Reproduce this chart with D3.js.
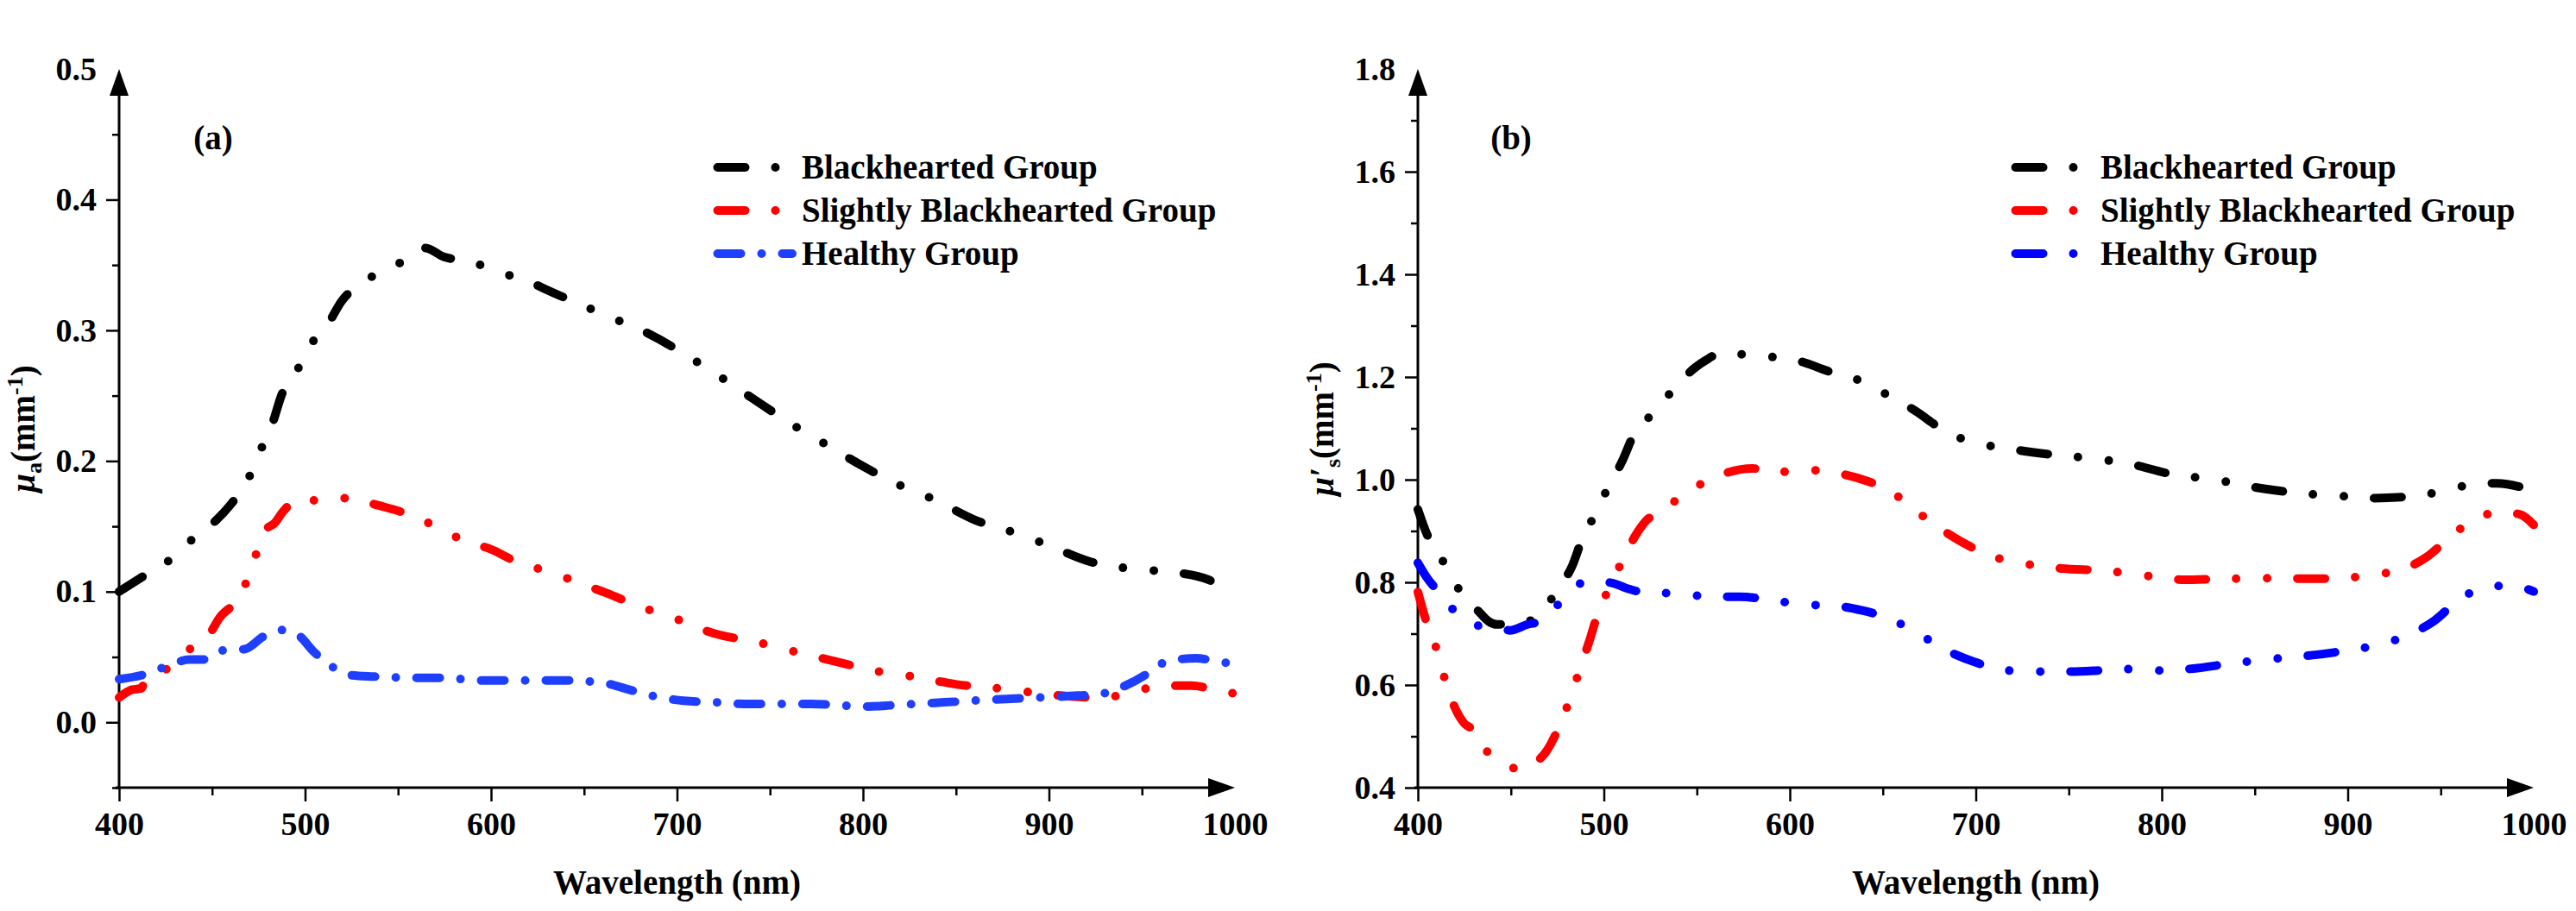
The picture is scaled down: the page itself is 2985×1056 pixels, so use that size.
<!DOCTYPE html>
<html>
<head>
<meta charset="utf-8">
<script src="https://cdn.jsdelivr.net/npm/d3@7"></script>
<style>
  body { margin: 0; background: #fff; }
  svg text { font-family: "Liberation Serif", "Times New Roman", serif; font-weight: bold; }
</style>
</head>
<body>
<svg width="2985" height="1056"></svg>
<script>
// wavelength (nm) vs value
var muaBlack = [[400,0.100],[411,0.110],[427,0.124],[435,0.135],[447,0.148],[459,0.165],[469,0.185],[476,0.208],[483,0.231],[487.5,0.251],[494.5,0.266],[502,0.287],[512,0.304],[519.5,0.322],[532.5,0.338],[545.5,0.348],[558.5,0.357],[564.5,0.363],[575,0.356],[588,0.353],[603.5,0.345],[622.5,0.336],[630,0.331],[646,0.321],[662.5,0.311],[684,0.298],[706,0.280],[720.5,0.267],[740.5,0.248],[763,0.227],[778.5,0.214],[800,0.196],[822,0.180],[837.5,0.171],[860,0.155],[884,0.144],[900.5,0.135],[922,0.123],[948,0.117],[966,0.115],[986,0.109],[996,0.101],[1000,0.098]];
var muaRed = [[400,0.019],[407,0.025],[412,0.026],[414,0.032],[427,0.042],[438,0.056],[447,0.064],[454,0.080],[466,0.099],[472,0.122],[475,0.134],[478,0.146],[484,0.153],[488,0.161],[497,0.171],[511,0.169],[525,0.172],[537,0.167],[556,0.159],[573,0.148],[587,0.138],[599,0.133],[615,0.122],[632,0.115],[648.5,0.106],[662,0.099],[679,0.089],[696,0.081],[720,0.068],[744,0.061],[760.5,0.055],[784,0.047],[808,0.039],[827,0.035],[850.5,0.029],[874.5,0.0257],[893.5,0.0224],[910,0.020],[924,0.019],[941,0.021],[960,0.028],[976.5,0.028],[992,0.024],[1000,0.022]];
var muaBlue = [[400,0.033],[412,0.036],[424,0.042],[438,0.048],[445,0.048],[455.5,0.055],[467.5,0.056],[478,0.066],[487.5,0.0706],[497,0.066],[504,0.055],[513.5,0.0435],[525,0.036],[537,0.035],[561,0.034],[573,0.034],[596,0.032],[608,0.032],[632,0.032],[641,0.032],[661,0.030],[672.5,0.0257],[684.5,0.021],[703.5,0.0165],[721,0.0153],[739,0.014],[772,0.014],[803,0.012],[815,0.013],[843.5,0.0153],[874.5,0.0177],[910,0.020],[929,0.022],[941,0.028],[951.5,0.036],[960,0.0445],[969,0.048],[979,0.049],[994.5,0.0457],[1000,0.045]];

var muspBlack = [[400,0.942],[404.5,0.897],[414,0.838],[422.5,0.784],[433,0.742],[438,0.724],[442.5,0.718],[450,0.718],[465,0.733],[474.5,0.784],[483,0.832],[489,0.891],[496,0.936],[502,0.983],[510,1.037],[516,1.087],[528,1.134],[539.5,1.185],[549,1.218],[555,1.233],[560,1.242],[563,1.239],[577.5,1.245],[590.5,1.239],[606,1.230],[620,1.212],[639,1.191],[653,1.164],[667.5,1.134],[681.5,1.099],[696,1.075],[714.5,1.062],[738,1.050],[763,1.041],[781,1.032],[805,1.011],[830,0.999],[847,0.987],[870.5,0.975],[896,0.968],[914,0.964],[938,0.969],[947.5,0.975],[961.5,0.987],[980,0.993],[1000,0.978]];
var muspRed = [[400,0.781],[404.5,0.724],[410.5,0.665],[415,0.605],[420,0.555],[425,0.525],[429.5,0.513],[435.5,0.477],[442.5,0.457],[454.5,0.436],[468.5,0.468],[474.5,0.507],[481.5,0.570],[487.5,0.635],[492.5,0.689],[497,0.742],[504,0.796],[510,0.843],[518,0.897],[523,0.921],[530,0.936],[543,0.971],[561,1.007],[580,1.022],[589,1.013],[608,1.019],[625,1.013],[641,0.998],[653,0.980],[667.5,0.940],[682,0.902],[698,0.868],[712,0.847],[728,0.835],[746,0.827],[768,0.823],[796,0.811],[812,0.805],[836,0.807],[861,0.808],[880,0.807],[901,0.809],[910,0.814],[927.5,0.823],[941.5,0.847],[954.5,0.886],[968.5,0.924],[982.5,0.936],[992,0.933],[1000,0.912]];
var muspBlue = [[400,0.838],[404.5,0.811],[412,0.778],[421,0.739],[435.5,0.7125],[449.5,0.7065],[459,0.718],[466,0.724],[475.5,0.757],[485,0.793],[492.5,0.802],[504,0.799],[513.5,0.787],[520.5,0.781],[539.5,0.778],[558.5,0.772],[573,0.772],[589,0.766],[606,0.757],[625,0.754],[639,0.745],[653,0.730],[669,0.700],[684,0.668],[700,0.644],[714.5,0.629],[733,0.626],[750.5,0.626],[770,0.629],[784,0.631],[798,0.628],[817,0.632],[835.5,0.641],[849.5,0.647],[866,0.653],[883.5,0.659],[901,0.668],[915,0.677],[931,0.695],[946.5,0.725],[959,0.764],[968.5,0.784],[976.5,0.793],[993,0.790],[1000,0.782]];

var groups = ["Blackhearted Group", "Slightly Blackhearted Group", "Healthy Group"];
var xTicks = [400, 500, 600, 700, 800, 900, 1000];
var xMinor = [450, 550, 650, 750, 850, 950];
var yTicksA = [0.0, 0.1, 0.2, 0.3, 0.4, 0.5];
var yMinorA = [-0.05, 0.05, 0.15, 0.25, 0.35, 0.45];
var yTicksB = [0.4, 0.6, 0.8, 1.0, 1.2, 1.4, 1.6, 1.8];
var yMinorB = [0.5, 0.7, 0.9, 1.1, 1.3, 1.5, 1.7];

var dashDotDot = "32 35 0 36 0 35";
var dashDot = "27 24 0 24";

var svg = d3.select('svg');

function panel(opt) {
    var x = d3.scaleLinear().domain([400, 1000]).range(opt.xr);
    var y = d3.scaleLinear().domain(opt.yd).range([913, 80]);
    var g = svg.append('g');

    // minor ticks
    g.append('g')
        .attr('transform', 'translate(0,' + y.range()[0] + ')')
        .call(d3.axisBottom(x).tickValues(xMinor).tickSize(9).tickFormat(''));
    g.append('g')
        .attr('transform', 'translate(' + x.range()[0] + ',0)')
        .call(d3.axisLeft(y).tickValues(opt.yMinor).tickSize(8).tickFormat(''));

    var xa = g.append('g')
        .attr('transform', 'translate(0,' + y.range()[0] + ')')
        .call(d3.axisBottom(x).tickValues(xTicks).tickSize(16).tickPadding(12).tickFormat(d3.format('d')));
    xa.selectAll('.tick').filter(function(d){ return d === 1000; }).select('line').remove();

    var ya = g.append('g')
        .attr('transform', 'translate(' + x.range()[0] + ',0)')
        .call(d3.axisLeft(y).tickValues(opt.yTicks).tickSize(15).tickPadding(11).tickFormat(d3.format('.1f')));
    ya.selectAll('.tick').filter(function(d){ return d === opt.yd[1]; }).select('line').remove();

    g.selectAll('.domain').remove();
    g.selectAll('.tick line').attr('stroke', '#000').attr('stroke-width', 2.5);
    g.selectAll('.tick text').attr('fill', '#000').style('font-size', '38px');

    // axis lines with arrows
    var x0 = x.range()[0], x1 = x.range()[1], y0 = y.range()[0], y1 = y.range()[1];
    g.append('line').attr('x1', x0 - 4).attr('x2', x1 - 20).attr('y1', y0).attr('y2', y0)
        .attr('stroke', '#000').attr('stroke-width', 3);
    g.append('line').attr('x1', x0).attr('x2', x0).attr('y1', y0 + 1.5).attr('y2', y1 + 20)
        .attr('stroke', '#000').attr('stroke-width', 3);
    g.append('path').attr('d', 'M' + x1 + ',' + y0 + 'l-31,-11l0,22z').attr('fill', '#000');
    g.append('path').attr('d', 'M' + x0 + ',' + y1 + 'l-11,31l22,0z').attr('fill', '#000');

    var line = d3.line()
        .x(function(d){ return x(d[0]); })
        .y(function(d){ return y(d[1]); })
        .curve(d3.curveMonotoneX);

    opt.series.forEach(function(s) {
        g.append('path')
            .datum(s.data)
            .attr('d', line)
            .attr('fill', 'none')
            .attr('stroke', s.color)
            .attr('stroke-width', 10)
            .attr('stroke-linecap', 'round')
            .attr('stroke-dasharray', s.dash);
    });

    // legend
    var lg = g.append('g');
    opt.series.forEach(function(s, i) {
        var ly = 194 + i * 50;
        lg.append('line')
            .attr('x1', opt.legX + 4.5).attr('x2', opt.legX + opt.legLen)
            .attr('y1', ly).attr('y2', ly)
            .attr('stroke', s.color).attr('stroke-width', 10)
            .attr('stroke-linecap', 'round')
            .attr('stroke-dasharray', s.dash);
        lg.append('text')
            .attr('x', opt.legText).attr('y', ly + 13)
            .style('font-size', '39px')
            .text(groups[i]);
    });

    g.append('text')
        .attr('x', opt.tagX).attr('y', 173)
        .attr('text-anchor', 'middle')
        .style('font-size', '39px')
        .text(opt.tag);

    g.append('text')
        .attr('x', (x0 + x1) / 2).attr('y', 1036)
        .attr('text-anchor', 'middle')
        .style('font-size', '39px')
        .text('Wavelength (nm)');

    var yt = g.append('text')
        .attr('transform', 'translate(' + opt.yTitleX + ',497) rotate(-90)')
        .attr('text-anchor', 'middle')
        .style('font-size', '39px');
    yt.append('tspan').style('font-style', 'italic').text(opt.sym);
    yt.append('tspan').attr('dy', 8).style('font-size', '26px').text(opt.sub);
    yt.append('tspan').attr('dy', -8).text('(mm');
    yt.append('tspan').attr('dy', -14).style('font-size', '26px').text('-1');
    yt.append('tspan').attr('dy', 14).text(')');
}

panel({
    xr: [138, 1431], yd: [-0.05, 0.5],
    yTicks: yTicksA, yMinor: yMinorA,
    series: [
        {data: muaBlack, color: '#000000', dash: dashDotDot},
        {data: muaRed, color: '#ff0000', dash: dashDotDot},
        {data: muaBlue, color: '#1f3fff', dash: dashDot}
    ],
    legX: 827, legLen: 91, legText: 929,
    tag: '(a)', tagX: 247,
    yTitleX: 40, sym: '\u03bc', sub: 'a'
});

panel({
    xr: [1643, 2936], yd: [0.4, 1.8],
    yTicks: yTicksB, yMinor: yMinorB,
    series: [
        {data: muspBlack, color: '#000000', dash: dashDotDot},
        {data: muspRed, color: '#ff0000', dash: dashDotDot},
        {data: muspBlue, color: '#0000ff', dash: dashDotDot}
    ],
    legX: 2331, legLen: 80, legText: 2434,
    tag: '(b)', tagX: 1751,
    yTitleX: 1545, sym: '\u03bc\u2032', sub: 's'
});
</script>
</body>
</html>
